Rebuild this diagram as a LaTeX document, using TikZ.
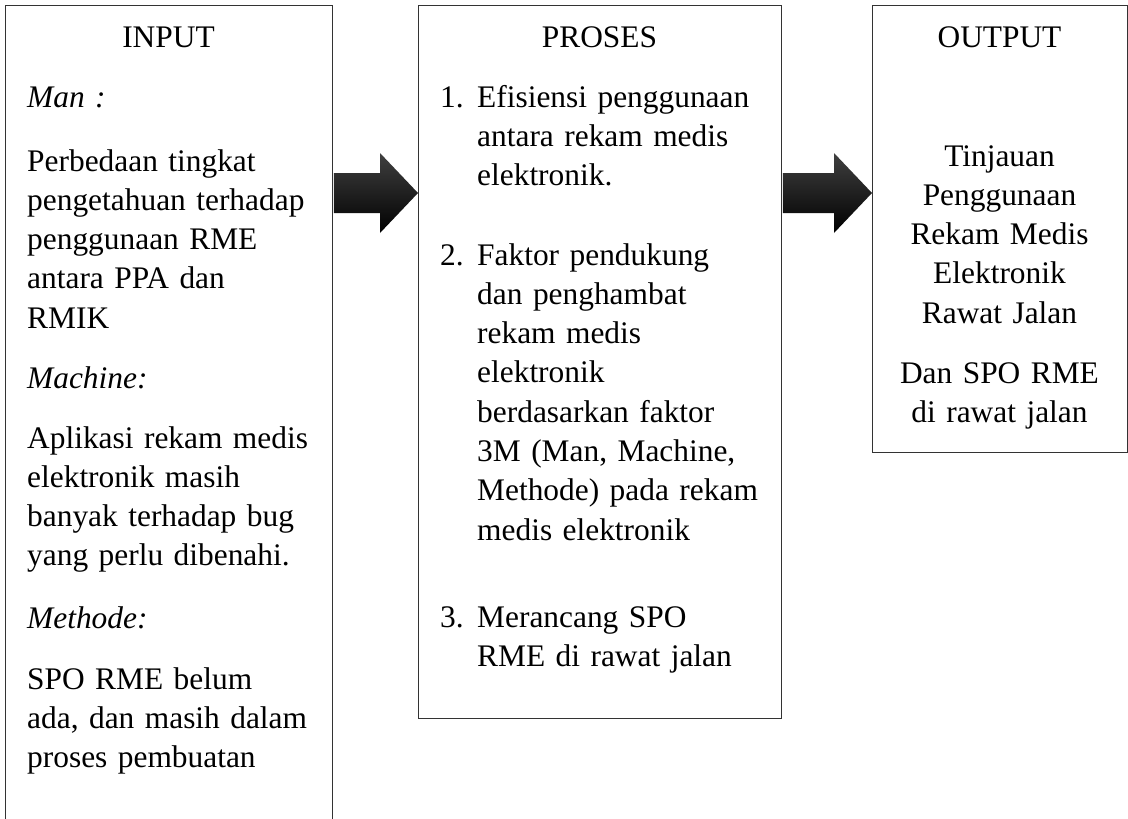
\documentclass[tikz,border=0pt]{standalone}
\usepackage{fontspec}
\setmainfont{Liberation Serif}
\usetikzlibrary{calc}

\tikzset{
  kotak/.style={draw=black!80, line width=1.3pt, anchor=north west},
  judul/.style={anchor=base, font=\fontsize{31.4}{39.3}\selectfont},
  isi/.style={anchor=base west, align=left, text width=300pt,
    font=\fontsize{31.4}{39.3}\selectfont},
  isitengah/.style={anchor=base, align=center, text width=250pt,
    font=\fontsize{31.4}{39.3}\selectfont},
  panah/.style={top color=black!75, bottom color=black}
}

\newcommand{\panahblok}[2]{%
  \path[panah] let \p1=(#1.east), \p2=(#2.west) in
    (\x1+0.6pt,-173pt) -- (\x2-38pt,-173pt) -- (\x2-38pt,-153pt) -- (\x2,-193pt)
    -- (\x2-38pt,-233pt) -- (\x2-38pt,-213pt) -- (\x1+0.6pt,-213pt) -- cycle;}

\begin{document}
\begin{tikzpicture}[x=1pt,y=-1pt]
                \tikzstyle{every node}+=[inner sep=0pt]
                \useasboundingbox (0,0) rectangle (1128,819);
                \node[kotak, minimum width=327pt, minimum height=900pt] (input) at (5,5) {};
                \node[kotak, minimum width=363pt, minimum height=713pt] (proses) at (418,5) {};
                \node[kotak, minimum width=255pt, minimum height=447pt] (output) at (872,5) {};
                \node[judul] (inJudul) at (168.5,47) {INPUT};
                \node[isi] (inMan) at (27,107) {\itshape Man :};
                \node[isi] (inManIsi) at (27,171) {Perbedaan tingkat\\pengetahuan terhadap\\penggunaan RME\\antara PPA dan\\RMIK};
                \node[isi] (inMachine) at (27,388) {\itshape Machine:};
                \node[isi] (inMachineIsi) at (27,448) {Aplikasi rekam medis\\elektronik masih\\banyak terhadap bug\\yang perlu dibenahi.};
                \node[isi] (inMethode) at (27,628) {\itshape Methode:};
                \node[isi] (inMethodeIsi) at (27,689) {SPO RME belum\\ada, dan masih dalam\\proses pembuatan};
                \node[judul] (prJudul) at (599.5,47) {PROSES};
                \node[isi] (prNo1) at (440,107) {1.};
                \node[isi] (prIsi1) at (477,107) {Efisiensi penggunaan\\antara rekam medis\\elektronik.};
                \node[isi] (prNo2) at (440,265) {2.};
                \node[isi] (prIsi2) at (477,265) {Faktor pendukung\\dan penghambat\\rekam medis\\elektronik\\berdasarkan faktor\\3M (Man, Machine,\\Methode) pada rekam\\medis elektronik};
                \node[isi] (prNo3) at (440,627) {3.};
                \node[isi] (prIsi3) at (477,627) {Merancang SPO\\RME di rawat jalan};
                \node[judul] (outJudul) at (999.5,47) {OUTPUT};
                \node[isitengah] (outIsi1) at (999.5,166) {Tinjauan\\Penggunaan\\Rekam Medis\\Elektronik\\Rawat Jalan};
                \node[isitengah] (outIsi2) at (999.5,383) {Dan SPO RME\\di rawat jalan};
                \panahblok{input}{proses}
                \panahblok{proses}{output}
            \end{tikzpicture}
\end{document}
